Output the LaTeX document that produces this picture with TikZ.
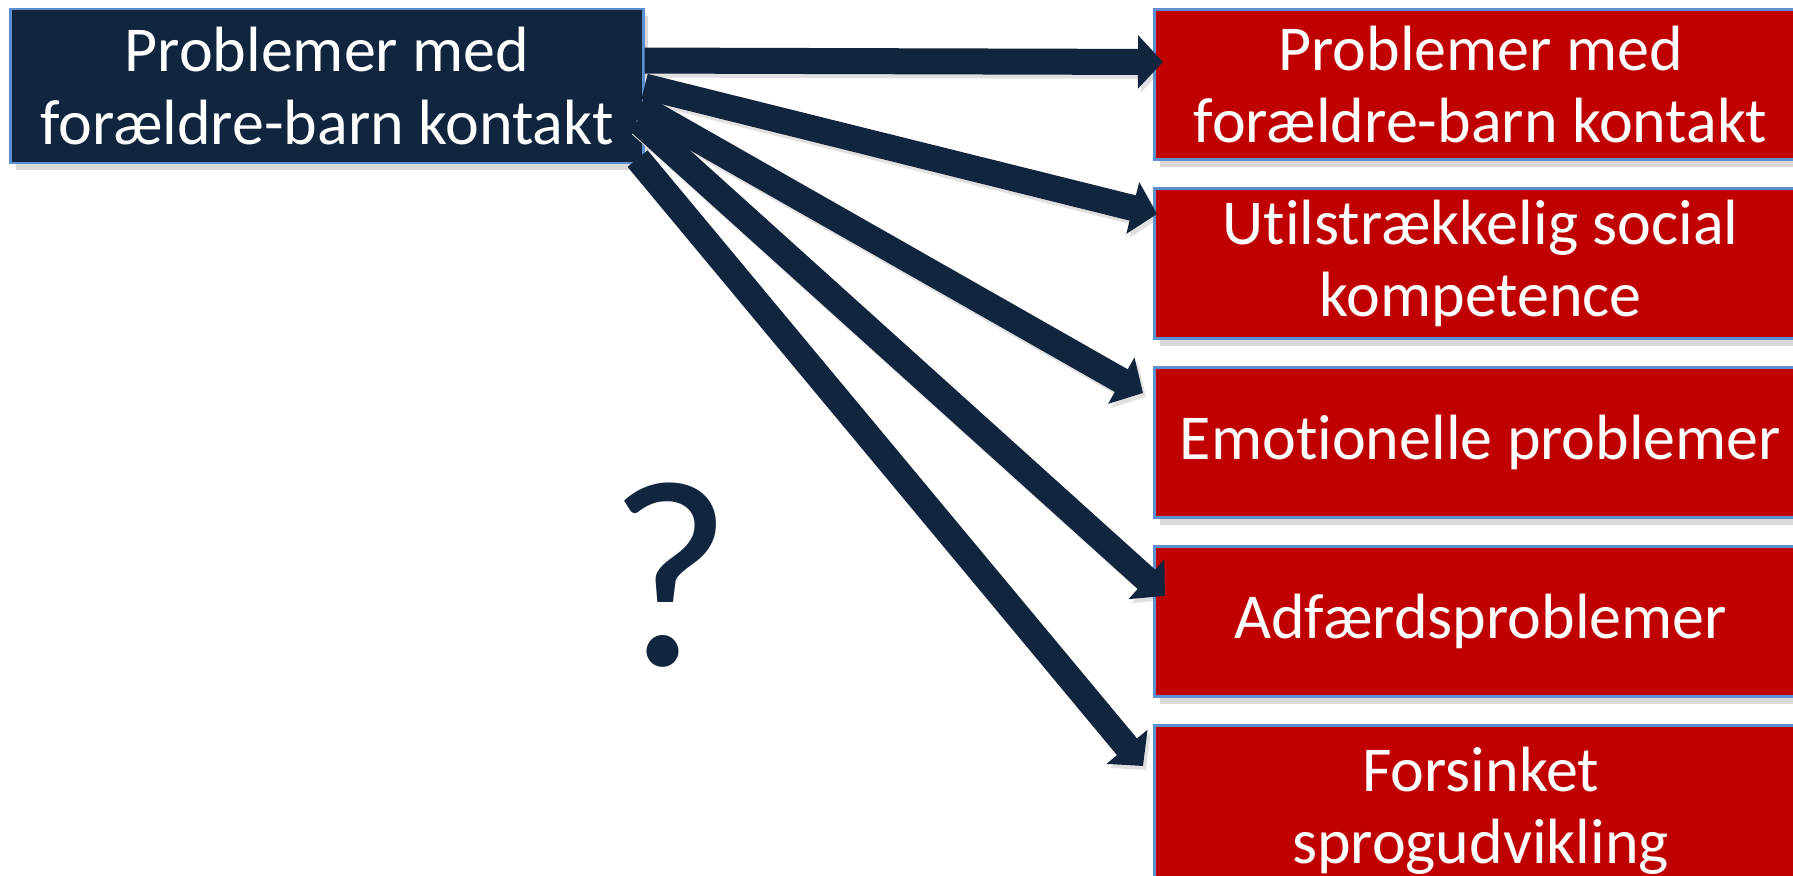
\documentclass[tikz,border=0pt]{standalone}
\usepackage{fontspec}
\setmainfont{Carlito}[Ligatures={NoCommon,NoContextual,NoRare},Contextuals=NoAlternate]
\usetikzlibrary{arrows.meta,calc,positioning,shadows}
\definecolor{navy}{HTML}{11253F}
\definecolor{boxred}{HTML}{C00000}
\definecolor{edgeblue}{HTML}{5B8FD0}
\newcommand{\boxfont}{\fontsize{18.2}{20.5}\selectfont}
\tikzset{
    boxsty/.style={draw=edgeblue,line width=0.8pt,rectangle,inner sep=0pt,text=white,align=center,font=\boxfont,
        drop shadow={shadow xshift=1.5pt,shadow yshift=-2pt,opacity=0.3}},
    srcsty/.style={boxsty,fill=navy,minimum width=6.32cm,minimum height=1.54cm},
    outsty/.style={boxsty,fill=boxred,minimum width=6.52cm,minimum height=1.5cm,anchor=north west},
    arrsty/.style={draw=navy,line width=0.26cm,-{Triangle[length=0.25cm,width=0.52cm]}},
    shadsty/.style={arrsty,draw=black!12,fill=black!12},
}

\begin{document}
\begin{tikzpicture}[x=0.01cm,y=-0.01cm]
\useasboundingbox (0,0) rectangle (1793,876);
\clip (0,0) rectangle (1793,876);

\node[srcsty] (src) at (327,86) {Problemer med\\forældre-barn kontakt};

\coordinate (s1) at ($(src.north east)+(0,53)$);
\coordinate (s2) at ($(src.north east)+(0,79)$);
\coordinate (s3) at ($(src.north east)+(-5,99)$);
\coordinate (s4) at ($(src.north east)+(-7,113)$);
\coordinate (s5) at ($(src.north east)+(-7,151)$);

\coordinate (o1) at (1153,8);
\coordinate (o2) at (1153,187);
\coordinate (o3) at (1153,366);
\coordinate (o4) at (1153,545);
\coordinate (o5) at (1153,724);

\coordinate (t1) at ($(o1)+(10,54)$);
\coordinate (t2) at ($(o2)+(4,27)$);
\coordinate (t3) at ($(o3)+(-10,27)$);
\coordinate (t4) at ($(o4)+(12,51)$);
\coordinate (t5) at ($(o5)+(-10,42)$);

\foreach \i in {1,...,5}
  \draw[shadsty] ($(s\i)+(3,4)$) -- ($(t\i)+(3,4)$);

\node[outsty] (out1) at (o1) {Problemer med\\forældre-barn kontakt};
\node[outsty] (out2) at (o2) {Ut\kern0pt ilstrækkelig social\\kompetence};
\node[outsty] (out3) at (o3) {Emot\kern0pt ionelle problemer};
\node[outsty] (out4) at (o4) {Adfærdsproblemer};
\node[outsty,minimum height=1.7cm] (out5) at (o5) {Forsinket\\sprogudvikling};

\foreach \i in {1,...,5}
  \draw[arrsty] (s\i) -- (t\i);

\node[inner sep=0pt,text=navy,font=\fontsize{76}{80}\selectfont] (qm) at (670,575) {?};
\end{tikzpicture}
\end{document}
